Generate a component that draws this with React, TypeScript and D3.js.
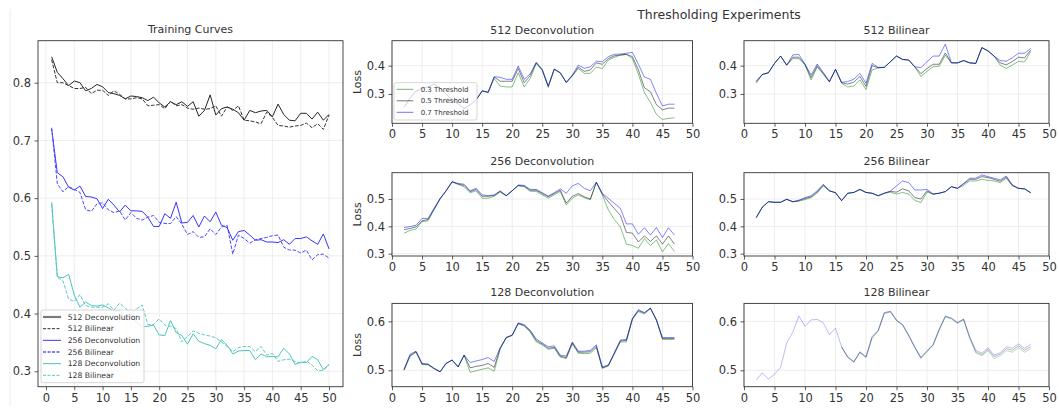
import React, { useEffect, useRef } from "react";
import * as d3 from "d3";

// ---- Training curves (epochs 1..50) ----
const trainEpochs = d3.range(1, 51);
const deconv512 = [
  0.845, 0.818, 0.807, 0.795, 0.803, 0.8, 0.786, 0.79, 0.797, 0.793,
  0.783, 0.781, 0.778, 0.772, 0.777, 0.776, 0.774, 0.769, 0.775, 0.765,
  0.758, 0.767, 0.762, 0.767, 0.759, 0.767, 0.742, 0.752, 0.779, 0.744,
  0.755, 0.758, 0.754, 0.748, 0.735, 0.752, 0.748, 0.751, 0.752, 0.741,
  0.763, 0.745, 0.735, 0.734, 0.747, 0.747, 0.737, 0.749, 0.735, 0.745,
];
const bilinear512 = [
  0.84, 0.8, 0.8, 0.795, 0.79, 0.79, 0.792, 0.781, 0.787, 0.787,
  0.778, 0.786, 0.78, 0.772, 0.772, 0.774, 0.772, 0.76, 0.761, 0.762,
  0.755, 0.768, 0.76, 0.762, 0.756, 0.754, 0.756, 0.754, 0.755, 0.76,
  0.742, 0.758, 0.752, 0.76, 0.735, 0.734, 0.732, 0.729, 0.749, 0.74,
  0.726, 0.725, 0.723, 0.725, 0.726, 0.73, 0.722, 0.729, 0.719, 0.744,
];
const deconv256 = [
  0.72, 0.644, 0.637, 0.619, 0.614, 0.621, 0.603, 0.602, 0.599, 0.582,
  0.598, 0.588, 0.576, 0.588, 0.578, 0.578, 0.577, 0.567, 0.551, 0.551,
  0.573, 0.565, 0.593, 0.557, 0.558, 0.57, 0.55, 0.569, 0.559, 0.576,
  0.553, 0.549, 0.527, 0.542, 0.544, 0.536, 0.527, 0.528, 0.524, 0.524,
  0.523, 0.528, 0.52, 0.53, 0.53, 0.533, 0.526, 0.52, 0.538, 0.512,
];
const bilinear256 = [
  0.722, 0.625, 0.611, 0.62, 0.615, 0.61, 0.58, 0.577, 0.59, 0.592,
  0.58, 0.575, 0.578, 0.562, 0.575, 0.565, 0.562, 0.567, 0.57, 0.558,
  0.556, 0.556, 0.568, 0.555, 0.537, 0.542, 0.532, 0.533, 0.547, 0.537,
  0.55, 0.553, 0.503, 0.536, 0.53, 0.522, 0.528, 0.53, 0.532, 0.535,
  0.536, 0.515, 0.51, 0.51, 0.505, 0.51, 0.493, 0.502, 0.503, 0.496,
];
const deconv128 = [
  0.593, 0.464, 0.462, 0.468, 0.432, 0.411, 0.42, 0.414, 0.413, 0.415,
  0.41, 0.404, 0.405, 0.39, 0.398, 0.385, 0.377, 0.378, 0.38, 0.363,
  0.362, 0.388, 0.367, 0.362, 0.347, 0.365, 0.352, 0.348, 0.345, 0.339,
  0.355, 0.345, 0.33, 0.335, 0.336, 0.336, 0.32, 0.33, 0.325, 0.326,
  0.325, 0.34, 0.33, 0.312, 0.316, 0.315, 0.326, 0.32, 0.303, 0.312,
];
const bilinear128 = [
  0.59, 0.463, 0.457, 0.425, 0.421, 0.433, 0.414, 0.411, 0.411, 0.411,
  0.417, 0.406, 0.418, 0.41, 0.4, 0.408, 0.415, 0.381, 0.381, 0.391,
  0.38, 0.378, 0.374, 0.351, 0.36, 0.37, 0.366, 0.363, 0.361, 0.358,
  0.351, 0.343, 0.334, 0.341, 0.343, 0.343, 0.334, 0.343, 0.328, 0.331,
  0.317, 0.32, 0.321, 0.317, 0.314, 0.318, 0.311, 0.301, 0.302, 0.311,
];

// ---- Thresholding experiments (epochs 2..47) ----
const threshEpochs = d3.range(2, 48);
const thresholdLabels = ["0.3 Threshold", "0.5 Threshold", "0.7 Threshold"];

const dec512_t03 = [
  0.253, 0.285, 0.31, 0.32, 0.325, 0.335, 0.32, 0.3, 0.28, 0.265,
  0.249, 0.262, 0.279, 0.311, 0.306, 0.355, 0.328, 0.325, 0.325, 0.375,
  0.325, 0.355, 0.408, 0.383, 0.323, 0.387, 0.374, 0.34, 0.363, 0.39,
  0.373, 0.373, 0.395, 0.39, 0.42, 0.43, 0.437, 0.44, 0.425, 0.37,
  0.305, 0.27, 0.228, 0.21, 0.214, 0.216,
];
const dec512_t05 = [
  0.253, 0.285, 0.31, 0.32, 0.325, 0.335, 0.32, 0.3, 0.28, 0.265,
  0.249, 0.262, 0.279, 0.311, 0.306, 0.36, 0.345, 0.345, 0.345, 0.39,
  0.34, 0.365, 0.41, 0.385, 0.327, 0.388, 0.375, 0.341, 0.365, 0.395,
  0.38, 0.385, 0.41, 0.405, 0.425, 0.435, 0.438, 0.44, 0.432, 0.385,
  0.322, 0.308, 0.262, 0.244, 0.25, 0.25,
];
const dec512_t07 = [
  0.253, 0.285, 0.31, 0.32, 0.325, 0.335, 0.32, 0.3, 0.28, 0.265,
  0.249, 0.262, 0.279, 0.311, 0.306, 0.361, 0.359, 0.352, 0.352, 0.399,
  0.352, 0.371, 0.412, 0.387, 0.329, 0.388, 0.375, 0.341, 0.367, 0.402,
  0.391, 0.396, 0.416, 0.414, 0.432, 0.44, 0.441, 0.444, 0.447, 0.405,
  0.36, 0.352, 0.302, 0.258, 0.264, 0.264,
];

const bil512_t03 = [
  0.338, 0.369, 0.375, 0.408, 0.434, 0.402, 0.425, 0.425, 0.403, 0.35,
  0.395, 0.37, 0.342, 0.387, 0.338, 0.325, 0.328, 0.35, 0.316, 0.385,
  0.392, 0.394, 0.414, 0.434, 0.422, 0.42, 0.396, 0.362, 0.38, 0.396,
  0.398, 0.437, 0.41, 0.41, 0.418, 0.41, 0.408, 0.464, 0.452, 0.434,
  0.402, 0.39, 0.403, 0.415, 0.413, 0.45,
];
const bil512_t05 = [
  0.344, 0.369, 0.375, 0.408, 0.434, 0.402, 0.43, 0.43, 0.405, 0.358,
  0.4, 0.372, 0.344, 0.387, 0.34, 0.335, 0.342, 0.362, 0.327, 0.4,
  0.393, 0.394, 0.414, 0.434, 0.422, 0.42, 0.396, 0.372, 0.39, 0.405,
  0.405, 0.445, 0.41, 0.41, 0.418, 0.41, 0.408, 0.464, 0.452, 0.434,
  0.41, 0.403, 0.415, 0.43, 0.428, 0.455,
];
const bil512_t07 = [
  0.344, 0.369, 0.375, 0.408, 0.434, 0.402, 0.438, 0.44, 0.405, 0.367,
  0.406, 0.376, 0.344, 0.387, 0.341, 0.344, 0.352, 0.373, 0.338, 0.408,
  0.394, 0.394, 0.414, 0.434, 0.422, 0.42, 0.396, 0.393, 0.414, 0.434,
  0.434, 0.476, 0.41, 0.41, 0.418, 0.41, 0.408, 0.464, 0.452, 0.434,
  0.418, 0.416, 0.428, 0.444, 0.444, 0.461,
];

const dec256_t03 = [
  0.375, 0.385, 0.39, 0.418, 0.42, 0.46, 0.5, 0.53, 0.563, 0.553,
  0.545, 0.523, 0.53, 0.503, 0.503, 0.51, 0.525, 0.512, 0.53, 0.548,
  0.545, 0.528, 0.528, 0.515, 0.503, 0.515, 0.528, 0.478, 0.503, 0.515,
  0.505, 0.497, 0.561, 0.515, 0.46, 0.425, 0.398, 0.335, 0.33, 0.32,
  0.355, 0.33, 0.35, 0.307, 0.337, 0.308,
];
const dec256_t05 = [
  0.388, 0.392, 0.398, 0.42, 0.425, 0.463, 0.501, 0.53, 0.563, 0.555,
  0.55, 0.527, 0.535, 0.51, 0.51, 0.513, 0.528, 0.512, 0.53, 0.55,
  0.547, 0.532, 0.532, 0.52, 0.508, 0.52, 0.532, 0.485, 0.51, 0.52,
  0.508, 0.5, 0.561, 0.518, 0.49, 0.465, 0.44, 0.378, 0.375, 0.343,
  0.365, 0.345, 0.365, 0.335, 0.365, 0.335,
];
const dec256_t07 = [
  0.396, 0.399, 0.404, 0.429, 0.429, 0.466, 0.502, 0.53, 0.563, 0.557,
  0.554, 0.53, 0.539, 0.515, 0.512, 0.515, 0.53, 0.512, 0.53, 0.551,
  0.55, 0.535, 0.535, 0.523, 0.511, 0.523, 0.537, 0.521, 0.548, 0.557,
  0.539, 0.53, 0.561, 0.521, 0.502, 0.484, 0.466, 0.409, 0.409, 0.371,
  0.395, 0.368, 0.396, 0.359, 0.395, 0.368,
];

const bil256_t03 = [
  0.432, 0.47, 0.49, 0.488, 0.488, 0.499, 0.49, 0.492, 0.498, 0.505,
  0.522, 0.548, 0.53, 0.523, 0.494, 0.521, 0.524, 0.535, 0.524, 0.521,
  0.512, 0.521, 0.525, 0.518, 0.524, 0.518, 0.495, 0.487, 0.525, 0.518,
  0.521, 0.527, 0.545, 0.539, 0.55, 0.566, 0.566, 0.572, 0.568, 0.566,
  0.56, 0.576, 0.548, 0.539, 0.537, 0.523,
];
const bil256_t05 = [
  0.432, 0.47, 0.49, 0.488, 0.488, 0.499, 0.49, 0.494, 0.502, 0.508,
  0.526, 0.551, 0.53, 0.523, 0.494, 0.521, 0.524, 0.535, 0.524, 0.521,
  0.512, 0.521, 0.528, 0.525, 0.537, 0.53, 0.505, 0.5, 0.53, 0.518,
  0.521, 0.527, 0.545, 0.539, 0.555, 0.572, 0.572, 0.582, 0.578, 0.572,
  0.565, 0.58, 0.55, 0.539, 0.537, 0.523,
];
const bil256_t07 = [
  0.432, 0.47, 0.49, 0.488, 0.488, 0.499, 0.49, 0.496, 0.505, 0.512,
  0.53, 0.554, 0.53, 0.523, 0.494, 0.521, 0.524, 0.535, 0.524, 0.521,
  0.512, 0.521, 0.529, 0.548, 0.566, 0.56, 0.533, 0.533, 0.535, 0.518,
  0.521, 0.527, 0.545, 0.539, 0.557, 0.576, 0.576, 0.588, 0.582, 0.576,
  0.57, 0.584, 0.551, 0.539, 0.537, 0.523,
];

const dec128_t03 = [
  0.5, 0.528, 0.537, 0.512, 0.511, 0.503, 0.497, 0.514, 0.521, 0.507,
  0.531, 0.496, 0.499, 0.502, 0.505, 0.498, 0.543, 0.566, 0.571, 0.595,
  0.59, 0.578, 0.558, 0.552, 0.543, 0.545, 0.527, 0.524, 0.554, 0.535,
  0.534, 0.535, 0.546, 0.504, 0.509, 0.533, 0.558, 0.558, 0.604, 0.62,
  0.615, 0.626, 0.602, 0.563, 0.563, 0.563,
];
const dec128_t05 = [
  0.501, 0.53, 0.538, 0.513, 0.512, 0.504, 0.497, 0.514, 0.521, 0.507,
  0.531, 0.505, 0.508, 0.51, 0.514, 0.506, 0.545, 0.567, 0.572, 0.596,
  0.592, 0.58, 0.561, 0.554, 0.545, 0.547, 0.529, 0.526, 0.556, 0.537,
  0.537, 0.538, 0.549, 0.505, 0.51, 0.535, 0.56, 0.561, 0.605, 0.622,
  0.617, 0.627, 0.603, 0.565, 0.565, 0.565,
];
const dec128_t07 = [
  0.502, 0.533, 0.539, 0.514, 0.513, 0.504, 0.497, 0.514, 0.521, 0.507,
  0.531, 0.516, 0.519, 0.522, 0.526, 0.518, 0.546, 0.567, 0.572, 0.597,
  0.593, 0.582, 0.564, 0.556, 0.548, 0.55, 0.531, 0.529, 0.558, 0.539,
  0.539, 0.541, 0.552, 0.507, 0.511, 0.536, 0.562, 0.563, 0.606, 0.624,
  0.618, 0.627, 0.603, 0.567, 0.567, 0.567,
];

// 128 Bilinear: the 0.3 / 0.5 curves only show from epoch 16 on
const bil128Epochs = d3.range(16, 48);
const bil128_t03 = [
  0.547, 0.526, 0.516, 0.536, 0.526, 0.566, 0.58, 0.616, 0.619, 0.601,
  0.592, 0.57, 0.546, 0.524, 0.538, 0.551, 0.582, 0.609, 0.605, 0.596,
  0.603, 0.565, 0.535, 0.53, 0.54, 0.524, 0.53, 0.54, 0.537, 0.546,
  0.537, 0.544,
];
const bil128_t05 = [
  0.548, 0.527, 0.517, 0.537, 0.527, 0.567, 0.581, 0.617, 0.62, 0.602,
  0.593, 0.571, 0.547, 0.525, 0.539, 0.552, 0.583, 0.61, 0.606, 0.597,
  0.604, 0.567, 0.538, 0.532, 0.543, 0.528, 0.533, 0.544, 0.541, 0.55,
  0.541, 0.548,
];
const bil128_t07 = [
  0.48, 0.495, 0.482, 0.492, 0.506, 0.556, 0.578, 0.611, 0.59, 0.603,
  0.604, 0.597, 0.573, 0.586, 0.548, 0.528, 0.518, 0.538, 0.528, 0.569,
  0.582, 0.618, 0.621, 0.603, 0.594, 0.572, 0.548, 0.527, 0.54, 0.553,
  0.584, 0.611, 0.607, 0.598, 0.605, 0.569, 0.541, 0.535, 0.546, 0.531,
  0.536, 0.548, 0.545, 0.554, 0.545, 0.553,
];

const FONT = "'DejaVu Sans', Verdana, sans-serif";
const INK = "#333";
const xTicks = d3.range(0, 51, 5);
const threshColors = ["#008000", "#000000", "#0000ff"];

type Sel = d3.Selection<any, unknown, null, undefined>;

function drawPanel(svg: Sel, o: any) {
  const x = d3.scaleLinear().domain(o.xDomain).range([0, o.width]);
  const y = d3.scaleLinear().domain(o.yDomain).range([o.height, 0]);
  const g = svg.append("g").attr("transform", `translate(${o.left},${o.top})`);

  // grid
  g.append("g")
    .selectAll("line")
    .data(xTicks)
    .enter()
    .append("line")
    .attr("x1", (d) => x(d))
    .attr("x2", (d) => x(d))
    .attr("y1", 0)
    .attr("y2", o.height)
    .attr("stroke", "#e8e8e8")
    .attr("stroke-width", 0.8);
  g.append("g")
    .selectAll("line")
    .data(o.yTicks)
    .enter()
    .append("line")
    .attr("x1", 0)
    .attr("x2", o.width)
    .attr("y1", (d: number) => y(d))
    .attr("y2", (d: number) => y(d))
    .attr("stroke", "#e8e8e8")
    .attr("stroke-width", 0.8);

  const xa = g
    .append("g")
    .attr("transform", `translate(0,${o.height})`)
    .call(d3.axisBottom(x).tickValues(xTicks).tickSize(3.5).tickPadding(3.5).tickFormat(d3.format("d")) as any);
  const ya = g
    .append("g")
    .call(d3.axisLeft(y).tickValues(o.yTicks).tickSize(3.5).tickPadding(3.5).tickFormat(d3.format(".1f")) as any);
  [xa, ya].forEach((a) => {
    a.select(".domain").remove();
    a.attr("font-family", FONT).attr("font-size", o.tickFont);
    a.selectAll("line").attr("stroke", INK).attr("stroke-width", 0.8);
    a.selectAll("text").attr("fill", INK);
  });

  g.append("text")
    .attr("x", o.width / 2)
    .attr("y", o.titleY - o.top)
    .attr("text-anchor", "middle")
    .attr("font-family", FONT)
    .attr("font-size", o.titleSize)
    .attr("fill", INK)
    .text(o.title);

  if (o.ylabel) {
    g.append("text")
      .attr("transform", `translate(${o.ylabelX - o.left},${o.height / 2}) rotate(-90)`)
      .attr("text-anchor", "middle")
      .attr("dy", "0.36em")
      .attr("font-family", FONT)
      .attr("font-size", 11)
      .attr("fill", INK)
      .text(o.ylabel);
  }

  const lineLayer = g.append("g");
  const line = d3
    .line<[number, number]>()
    .x((d) => x(d[0]))
    .y((d) => y(d[1]));

  const finish = () =>
    g
      .append("rect")
      .attr("width", o.width)
      .attr("height", o.height)
      .attr("fill", "none")
      .attr("stroke", INK)
      .attr("stroke-width", 0.9);

  return { g, x, y, lineLayer, line, finish };
}

function drawLegend(g: Sel, box: any, items: any[]) {
  const lg = g.append("g");
  lg.append("rect")
    .attr("x", box.x)
    .attr("y", box.y)
    .attr("width", box.w)
    .attr("height", box.h)
    .attr("rx", 2)
    .attr("fill", "#fff")
    .attr("fill-opacity", 0.8)
    .attr("stroke", "#cccccc")
    .attr("stroke-width", 0.8);
  items.forEach((it, i) => {
    const cy = box.y + box.first + i * box.step;
    lg.append("line")
      .attr("x1", box.x + box.h0)
      .attr("x2", box.x + box.h1)
      .attr("y1", cy)
      .attr("y2", cy)
      .attr("stroke", it.color)
      .attr("stroke-opacity", it.opacity ?? 1)
      .attr("stroke-width", it.width ?? 1)
      .attr("stroke-dasharray", it.dash ?? null);
    lg.append("text")
      .attr("x", box.x + box.tx)
      .attr("y", cy)
      .attr("dy", "0.36em")
      .attr("font-family", FONT)
      .attr("font-size", box.fs)
      .attr("fill", INK)
      .text(it.label);
  });
}

const App = () => {
  const svgRef = useRef<SVGSVGElement>(null);

  useEffect(() => {
    const svg = d3.select(svgRef.current) as Sel;
    svg.selectAll("*").remove();

    // faint frame edge of the left figure
    svg.append("line")
      .attr("x1", 10).attr("x2", 10).attr("y1", 9).attr("y2", 406)
      .attr("stroke", "#ececec").attr("stroke-width", 1);

    // ---------- Training Curves ----------
    const tp = drawPanel(svg, {
      left: 38, top: 40.7, width: 305, height: 346,
      xDomain: [-1.41, 52.47], yDomain: [0.2733, 0.8728],
      yTicks: [0.3, 0.4, 0.5, 0.6, 0.7, 0.8],
      title: "Training Curves", titleY: 33, titleSize: 11, tickFont: 11.5,
    });
    const trainSeries = [
      { label: "512 Deconvolution", values: deconv512, color: "#262626", dash: null },
      { label: "512 Bilinear", values: bilinear512, color: "#333333", dash: "3.7,1.6" },
      { label: "256 Deconvolution", values: deconv256, color: "#3535ff", dash: null },
      { label: "256 Bilinear", values: bilinear256, color: "#4a4aff", dash: "3.7,1.6" },
      { label: "128 Deconvolution", values: deconv128, color: "#4cc5bd", dash: null },
      { label: "128 Bilinear", values: bilinear128, color: "#5ccbc4", dash: "3.7,1.6" },
    ];
    trainSeries.forEach((s) => {
      tp.lineLayer
        .append("path")
        .attr("d", tp.line(trainEpochs.map((e, i) => [e, s.values[i]] as [number, number])))
        .attr("fill", "none")
        .attr("stroke", s.color)
        .attr("stroke-width", 1)
        .attr("stroke-dasharray", s.dash);
    });
    drawLegend(svg, { x: 41, y: 310, w: 103, h: 72.7, first: 7, step: 11.67, h0: 2, h1: 20, tx: 26.7, fs: 7.7 }, [
      { label: "512 Deconvolution", color: "#7a7a7a", width: 2.2 },
      { label: "512 Bilinear", color: "#333", dash: "3,1.5" },
      { label: "256 Deconvolution", color: "#3535ff" },
      { label: "256 Bilinear", color: "#8080ff", width: 1.8, dash: "3,1.5" },
      { label: "128 Deconvolution", color: "#4cc5bd" },
      { label: "128 Bilinear", color: "#5ccbc4", dash: "3,1.5" },
    ]);
    tp.finish();

    // ---------- Thresholding Experiments ----------
    svg.append("text")
      .attr("x", 719).attr("y", 18.5)
      .attr("text-anchor", "middle")
      .attr("font-family", FONT).attr("font-size", 12.5).attr("fill", INK)
      .text("Thresholding Experiments");

    const cols = [{ left: 392, width: 300.5 }, { left: 744, width: 305 }];
    const rows = [
      { top: 40.7, height: 82.6, yDomain: [0.1965, 0.4883], yTicks: [0.3, 0.4], titleY: 34 },
      { top: 172.7, height: 83.3, yDomain: [0.2916, 0.5962], yTicks: [0.3, 0.4, 0.5], titleY: 164.7 },
      { top: 303.4, height: 83.3, yDomain: [0.4665, 0.6367], yTicks: [0.5, 0.6], titleY: 296.3 },
    ];
    const panels = [
      { row: 0, col: 0, title: "512 Deconvolution", series: [dec512_t03, dec512_t05, dec512_t07], epochs: [threshEpochs, threshEpochs, threshEpochs], opacity: 0.55 },
      { row: 0, col: 1, title: "512 Bilinear", series: [bil512_t03, bil512_t05, bil512_t07], epochs: [threshEpochs, threshEpochs, threshEpochs], opacity: 0.55 },
      { row: 1, col: 0, title: "256 Deconvolution", series: [dec256_t03, dec256_t05, dec256_t07], epochs: [threshEpochs, threshEpochs, threshEpochs], opacity: 0.55 },
      { row: 1, col: 1, title: "256 Bilinear", series: [bil256_t03, bil256_t05, bil256_t07], epochs: [threshEpochs, threshEpochs, threshEpochs], opacity: 0.55 },
      { row: 2, col: 0, title: "128 Deconvolution", series: [dec128_t03, dec128_t05, dec128_t07], epochs: [threshEpochs, threshEpochs, threshEpochs], opacity: 0.55 },
      { row: 2, col: 1, title: "128 Bilinear", series: [bil128_t03, bil128_t05, bil128_t07], epochs: [bil128Epochs, bil128Epochs, threshEpochs], opacity: 0.3 },
    ];

    panels.forEach((p) => {
      const r = rows[p.row];
      const c = cols[p.col];
      const pp = drawPanel(svg, {
        left: c.left, top: r.top, width: c.width, height: r.height,
        xDomain: [0, 50], yDomain: r.yDomain, yTicks: r.yTicks,
        title: p.title, titleY: r.titleY, titleSize: 11, tickFont: 11.5,
        ylabel: p.col === 0 ? "Loss" : null, ylabelX: 357.5,
      });
      p.series.forEach((vals, k) => {
        pp.lineLayer
          .append("path")
          .attr("d", pp.line(p.epochs[k].map((e, i) => [e, vals[i]] as [number, number])))
          .attr("fill", "none")
          .attr("stroke", threshColors[k])
          .attr("stroke-opacity", p.opacity)
          .attr("stroke-width", 0.9);
      });
      if (p.row === 0 && p.col === 0) {
        drawLegend(svg, { x: 394, y: 82.7, w: 83, h: 37.3, first: 6.6, step: 11.5, h0: 2.7, h1: 19.3, tx: 26.7, fs: 7 },
          thresholdLabels.map((label, k) => ({ label, color: threshColors[k], opacity: 0.55 })));
      }
      pp.finish();
    });
  }, []);

  return (
    <svg
      ref={svgRef}
      width={1059}
      height={410}
      style={{ position: "absolute", left: 0, top: 0, background: "#fff" }}
    />
  );
};

export default App;
